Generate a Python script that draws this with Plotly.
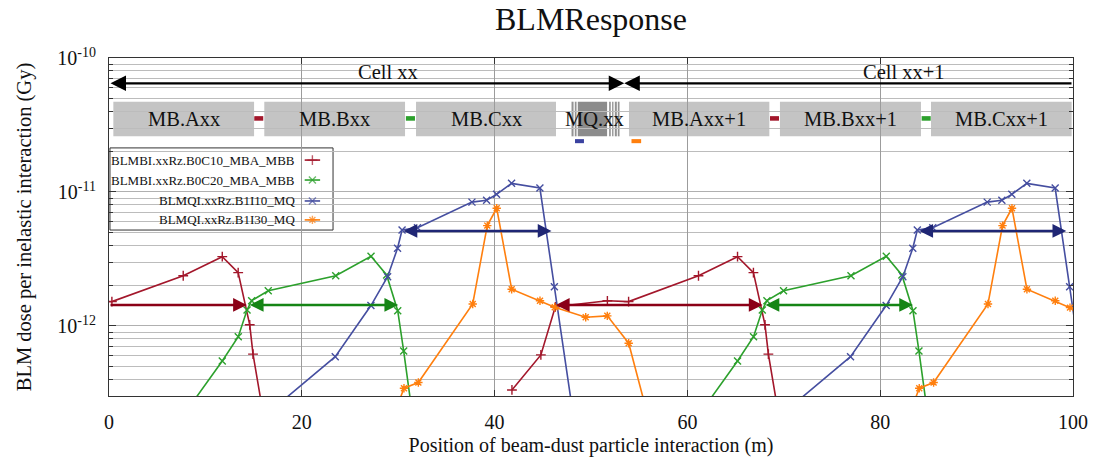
import math
import plotly.graph_objects as go

# ---------------- data ----------------
red_name = "BLMBI.xxRz.B0C10_MBA_MBB"
red_x = [-1.75, 0.3, 7.7, 11.75, 13.4, 14.6, 14.94, 16.2, None,
         41.8, 44.8, 46.3, 51.7, 53.9, 61.15, 65.2, 66.85, 68.05, 68.4, 69.65]
red_y = [1.54e-12, 1.52e-12, 2.37e-12, 3.29e-12, 2.50e-12, 1.02e-12, 6.16e-13, 1.8e-13, None,
         3.33e-13, 6.08e-13, 1.39e-12, 1.54e-12, 1.52e-12, 2.37e-12, 3.29e-12, 2.50e-12, 1.02e-12, 6.16e-13, 1.8e-13]

green_name = "BLMBI.xxRz.B0C20_MBA_MBB"
green_x = [8.0, 11.75, 13.41, 14.32, 14.8, 16.52, 23.52, 27.18, 28.8, 29.95, 30.57, 31.5, None,
           61.45, 65.2, 66.86, 67.77, 68.25, 69.97, 76.97, 80.63, 82.25, 83.4, 84.02, 84.95]
green_y = [2.3e-13, 5.48e-13, 8.32e-13, 1.315e-12, 1.545e-12, 1.83e-12, 2.37e-12, 3.31e-12, 2.4e-12, 1.3e-12, 6.5e-13, 2.1e-13, None,
           2.3e-13, 5.48e-13, 8.32e-13, 1.315e-12, 1.545e-12, 1.83e-12, 2.37e-12, 3.31e-12, 2.4e-12, 1.3e-12, 6.5e-13, 2.1e-13]

blue_name = "BLMQI.xxRz.B1I10_MQ"
blue_x = [17.0, 23.47, 27.17, 28.9, 29.93, 30.4, 32.0, 37.65, 39.17, 40.2, 41.76, 44.7, 46.2, 48.6, None,
          70.45, 76.92, 80.62, 82.35, 83.38, 83.85, 85.45, 91.1, 92.62, 93.65, 95.21, 98.15, 99.65, 102.05]
blue_y = [2.4e-13, 5.9e-13, 1.42e-12, 2.33e-12, 3.8e-12, 5.2e-12, 5.4e-12, 8.4e-12, 8.67e-12, 9.6e-12, 1.16e-11, 1.07e-11, 1.96e-12, 1.3e-13, None,
          2.4e-13, 5.9e-13, 1.42e-12, 2.33e-12, 3.8e-12, 5.2e-12, 5.4e-12, 8.4e-12, 8.67e-12, 9.6e-12, 1.16e-11, 1.07e-11, 1.96e-12, 1.3e-13]

orange_name = "BLMQI.xxRz.B1I30_MQ"
orange_x = [29.6, 30.6, 32.09, 37.73, 39.24, 40.22, 41.77, 44.71, 46.24, 49.45, 51.69, 53.91, 56.0, None,
            83.05, 84.05, 85.54, 91.18, 92.69, 93.67, 95.22, 98.16, 99.69, 102.9]
orange_y = [2.2e-13, 3.43e-13, 3.78e-13, 1.46e-12, 5.61e-12, 7.56e-12, 1.88e-12, 1.54e-12, 1.38e-12, 1.16e-12, 1.19e-12, 7.43e-13, 2.0e-13, None,
            2.2e-13, 3.43e-13, 3.78e-13, 1.46e-12, 5.61e-12, 7.56e-12, 1.88e-12, 1.54e-12, 1.37e-12, 1.16e-12]

# threshold arrows (start, end, level)
arrow_start = [0.0, 46.2, 14.45, 67.95, 30.4, 83.9]
arrow_end = [14.3, 67.8, 30.0, 83.4, 45.9, 99.3]
arrow_level = [1.435e-12, 1.435e-12, 1.435e-12, 1.435e-12, 5.12e-12, 5.12e-12]
arrow_both = [False, True, True, True, True, True]

# magnets
magnet_names = ["MB.Axx", "MB.Bxx", "MB.Cxx", "MB.Axx+1", "MB.Bxx+1", "MB.Cxx+1"]
magnet_start = [0.45, 16.11, 31.85, 53.94, 69.6, 85.27]
magnet_end = [15.05, 30.71, 46.37, 68.5, 84.23, 99.86]
mq_core = [48.63, 51.67]
mq_bars = [[47.98, 48.19], [48.32, 48.5], [51.88, 52.05], [52.19, 52.33], [52.47, 52.68], [52.78, 52.96]]
mq_label_x = 50.4

# BLM position markers
blm_start = [15.07, 68.57, 30.8, 84.3, 48.34, 54.2]
blm_end = [16.0, 69.5, 31.74, 85.24, 49.27, 55.2]

cell_names = ["Cell xx", "Cell xx+1"]
cell_label_x = [28.9, 82.5]
cell_boundary = [0.0, 53.45, 100.0]

x_ticks = [0, 20, 40, 60, 80, 100]
y_major = [1e-12, 1e-11, 1e-10]
y_major_text = ["10<sup>-12</sup>", "10<sup>-11</sup>", "10<sup>-10</sup>"]
y_minor = [m * 10.0 ** e for e in (-13, -12, -11) for m in range(2, 10) if m * 10.0 ** e >= 3e-13]

# ---------------- styling ----------------
C_RED, C_GREEN, C_BLUE, C_ORANGE = "#a3172b", "#2ca02c", "#454ea0", "#ff7f0e"
A_RED, A_GREEN, A_BLUE = "#8b0017", "#158515", "#1f2674"
blm_colors = [C_RED, C_RED, C_GREEN, C_GREEN, "#3b42a0", C_ORANGE]
arrow_colors = [A_RED, A_RED, A_GREEN, A_GREEN, A_BLUE, A_BLUE]
FONT = "Liberation Serif"

series = [
    (red_name, red_x, red_y, C_RED, "cross-thin"),
    (green_name, green_x, green_y, C_GREEN, "x-thin"),
    (blue_name, blue_x, blue_y, C_BLUE, "x-thin"),
    (orange_name, orange_x, orange_y, C_ORANGE, "asterisk"),
]

YMIN = math.log10(3e-13)
YMAX = -10.0


def pfrac_to_log(f):
    return YMIN + f * (YMAX - YMIN)


fig = go.Figure()
for name, xs, ys, col, sym in series:
    fig.add_trace(go.Scatter(
        x=xs, y=ys, name=name, mode="lines+markers", showlegend=False,
        line=dict(color=col, width=1.6),
        marker=dict(symbol=sym, size=7, color=col, line=dict(color=col, width=1.4)),
        connectgaps=False,
    ))

# custom legend (symbol to the right of right-aligned text)
leg_rows = [0.698, 0.639, 0.577, 0.521]
for (name, xs, ys, col, sym), ry in zip(series, leg_rows):
    fig.add_trace(go.Scatter(
        x=[0.203, 0.211, 0.219], y=[ry, ry, ry], xaxis="x2", yaxis="y2",
        mode="lines+markers", showlegend=False, hoverinfo="skip",
        line=dict(color=col, width=1.6),
        marker=dict(symbol=sym, size=[0, 7, 0], color=col, line=dict(color=col, width=1.4)),
    ))

shapes = []
annotations = []

# legend box
shapes.append(dict(type="rect", xref="paper", yref="paper", x0=0.001, x1=0.2324, y0=0.491, y1=0.734,
                   fillcolor="white", line=dict(color="#333333", width=1), layer="between"))
for (name, xs, ys, col, sym), ry in zip(series, leg_rows):
    annotations.append(dict(xref="paper", yref="paper", x=0.195, y=ry, text=name, showarrow=False,
                            xanchor="right", yanchor="middle", font=dict(family=FONT, size=13, color="#111")))

# white band behind the magnet row
shapes.append(dict(type="rect", xref="paper", yref="paper", x0=0.0, x1=1.0, y0=0.7683, y1=0.8707,
                   fillcolor="white", line=dict(width=0), layer="between"))
for nm, s, e in zip(magnet_names, magnet_start, magnet_end):
    shapes.append(dict(type="rect", xref="x", yref="paper", x0=s, x1=e, y0=0.7683, y1=0.8707,
                       fillcolor="#c4c4c4", line=dict(width=0), layer="between"))
    annotations.append(dict(xref="x", yref="paper", x=(s + e) / 2, y=0.8195, text=nm, showarrow=False,
                            xanchor="center", yanchor="middle",
                            font=dict(family=FONT, size=20.5, color="#111")))
for s, e in mq_bars:
    shapes.append(dict(type="rect", xref="x", yref="paper", x0=s, x1=e, y0=0.7683, y1=0.8707,
                       fillcolor="#939393", line=dict(width=0), layer="between"))
shapes.append(dict(type="rect", xref="x", yref="paper", x0=mq_core[0], x1=mq_core[1], y0=0.7683, y1=0.8707,
                   fillcolor="#8c8c8c", line=dict(width=0), layer="between"))
annotations.append(dict(xref="x", yref="paper", x=mq_label_x, y=0.8195, text="MQ.xx", showarrow=False,
                        xanchor="center", yanchor="middle",
                        font=dict(family=FONT, size=20.5, color="#111")))

# BLM markers
for i, (s, e, c) in enumerate(zip(blm_start, blm_end, blm_colors)):
    if i < 4:
        y0, y1 = 0.8145, 0.828
    else:
        y0, y1 = 0.748, 0.760
    shapes.append(dict(type="rect", xref="x", yref="paper", x0=s, x1=e, y0=y0, y1=y1,
                       fillcolor=c, line=dict(width=0), layer="between"))

# cell arrows
cy = pfrac_to_log(0.925)
annotations.append(dict(xref="x", yref="y", axref="x", ayref="y", x=cell_boundary[1], y=cy,
                        ax=cell_boundary[0], ay=cy, text="", showarrow=True, arrowside="end+start",
                        arrowhead=2, arrowsize=1.35, arrowwidth=2.3, arrowcolor="black", standoff=0, startstandoff=0))
annotations.append(dict(xref="x", yref="y", axref="x", ayref="y", x=cell_boundary[1], y=cy,
                        ax=cell_boundary[2], ay=cy, text="", showarrow=True, arrowside="end",
                        arrowhead=2, arrowsize=1.35, arrowwidth=2.3, arrowcolor="black", standoff=0))
for nm, cx in zip(cell_names, cell_label_x):
    annotations.append(dict(xref="x", yref="paper", x=cx, y=0.9595, text=nm, showarrow=False,
                            xanchor="center", yanchor="middle",
                            font=dict(family=FONT, size=20.5, color="#111")))

# threshold arrows
for s, e, lv, both, col in zip(arrow_start, arrow_end, arrow_level, arrow_both, arrow_colors):
    ly = math.log10(lv)
    annotations.append(dict(xref="x", yref="y", axref="x", ayref="y", x=e, y=ly, ax=s, ay=ly,
                            text="", showarrow=True, arrowside="end+start" if both else "end",
                            arrowhead=2, arrowsize=1.1, arrowwidth=2.5, arrowcolor=col,
                            standoff=0, startstandoff=0))

fig.update_layout(
    width=1103, height=458,
    margin=dict(l=109, r=30, t=58, b=62),
    paper_bgcolor="white", plot_bgcolor="white",
    font=dict(family=FONT, size=18, color="#111"),
    title=dict(text="BLMResponse", x=0.5, xref="paper", y=1 - 19 / 458, yref="container",
               xanchor="center", yanchor="middle", font=dict(family=FONT, size=32, color="#111")),
    xaxis=dict(range=[0, 100], tickvals=x_ticks, ticks="inside", ticklen=6, tickcolor="#333",
               showline=True, linecolor="#333", linewidth=1, mirror="allticks", automargin=False,
               showgrid=True, gridcolor="#9c9c9c", gridwidth=1, zeroline=False,
               tickfont=dict(family=FONT, size=20, color="#111"), ticklabelstandoff=8,
               title=dict(text="Position of beam-dust particle interaction (m)", standoff=5,
                          font=dict(family=FONT, size=20, color="#111"))),
    yaxis=dict(type="log", range=[YMIN, YMAX], tickvals=y_major, ticktext=y_major_text,
               ticks="inside", ticklen=7, tickcolor="#333", automargin=False,
               showline=True, linecolor="#333", linewidth=1, mirror="allticks",
               showgrid=True, gridcolor="#b0b0b0", gridwidth=1.3, zeroline=False,
               minor=dict(tickvals=y_minor, ticks="inside", ticklen=4, tickcolor="#333",
                          showgrid=True, gridcolor="#bcbcbc", gridwidth=1.3),
               tickfont=dict(family=FONT, size=20, color="#111"), ticklabelstandoff=8,
               title=dict(text="BLM dose per inelastic interaction (Gy)", standoff=20,
                          font=dict(family=FONT, size=20.5, color="#111"))),
    xaxis2=dict(overlaying="x", range=[0, 1], visible=False, fixedrange=True),
    yaxis2=dict(overlaying="y", range=[0, 1], visible=False, fixedrange=True),
    shapes=shapes,
    annotations=annotations,
    showlegend=False,
)

fig.write_html("out.html", config={"displayModeBar": False},
               post_script="document.body.style.margin='0';document.body.style.overflow='hidden';")
